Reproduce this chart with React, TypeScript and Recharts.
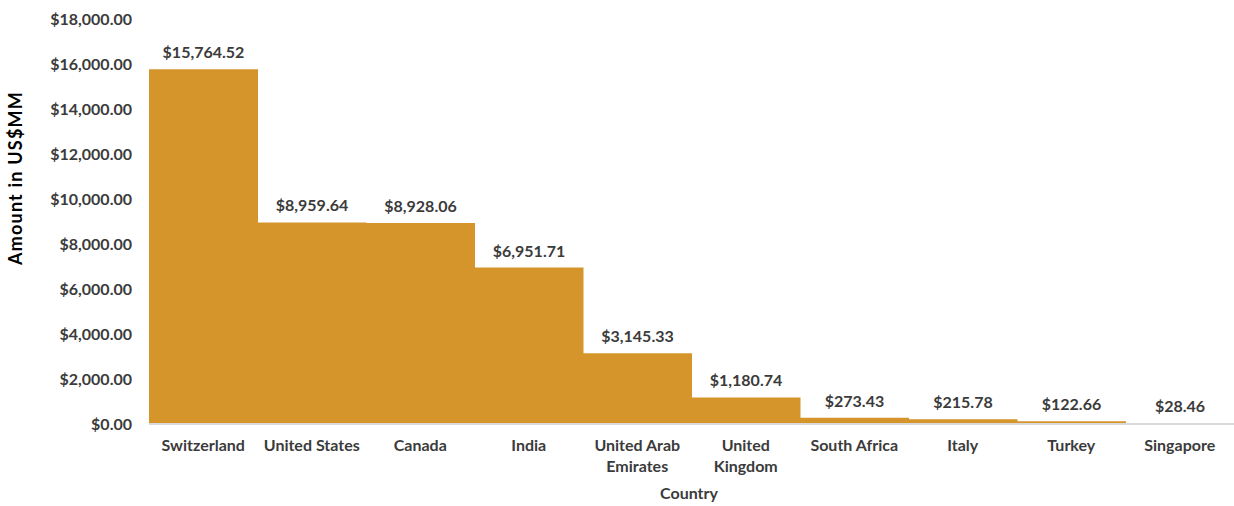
import { BarChart, Bar, XAxis, YAxis, LabelList } from "recharts";

const COUNTRIES = [
  "Switzerland",
  "United States",
  "Canada",
  "India",
  "United Arab Emirates",
  "United Kingdom",
  "South Africa",
  "Italy",
  "Turkey",
  "Singapore",
];

const AMOUNTS = [15764.52, 8959.64, 8928.06, 6951.71, 3145.33, 1180.74, 273.43, 215.78, 122.66, 28.46];

// how the category labels wrap under the axis
const TICK_LINES: Record<string, string[]> = {
  "United Arab Emirates": ["United Arab", "Emirates"],
  "United Kingdom": ["United", "Kingdom"],
};

const Y_TICKS = [0, 2000, 4000, 6000, 8000, 10000, 12000, 14000, 16000, 18000];

const BAR = "#D5952B";
const TEXT = "#3b3b3b";
const AXIS_LINE = "#d9d9d9";
const FONT = "Lato, 'Open Sans', sans-serif";

const data = COUNTRIES.map((c, i) => ({ country: c, amount: AMOUNTS[i] }));

function money(v: number): string {
  return "$" + v.toLocaleString("en-US", { minimumFractionDigits: 2, maximumFractionDigits: 2 });
}

function CountryTick({ x, y, payload }: any) {
  const lines = TICK_LINES[payload.value] ?? [payload.value];
  return (
    <g transform={`translate(${x},${y})`}>
      {lines.map((l, i) => (
        <text
          key={i}
          x={0}
          y={i * 21}
          dy={19}
          textAnchor="middle"
          fill={TEXT}
          fontSize={16}
          fontWeight={700}
          fontFamily={FONT}
        >
          {l}
        </text>
      ))}
    </g>
  );
}

export default function App() {
  return (
    <div style={{ position: "fixed", left: 0, top: 0, width: 1234, height: 506, background: "#fff" }}>
      <BarChart
        width={1234}
        height={506}
        data={data}
        margin={{ top: 19, right: 0, left: 0, bottom: 0 }}
        barCategoryGap={0}
      >
        <XAxis
          dataKey="country"
          tick={<CountryTick />}
          tickLine={false}
          axisLine={{ stroke: AXIS_LINE, strokeWidth: 2 }}
          interval={0}
          height={82}
        />
        <YAxis
          domain={[0, 18000]}
          ticks={Y_TICKS}
          tickFormatter={money}
          tickLine={false}
          axisLine={false}
          tickMargin={11}
          width={149}
          tick={{ fill: TEXT, fontSize: 16, fontWeight: 700, fontFamily: FONT }}
        />
        <Bar dataKey="amount" fill={BAR} isAnimationActive={false}>
          <LabelList
            dataKey="amount"
            position="top"
            offset={11}
            formatter={(v: any) => money(Number(v))}
            fill={TEXT}
            fontSize={16}
            fontWeight={700}
            fontFamily={FONT}
          />
        </Bar>
        <text
          x={17}
          y={178}
          transform="rotate(-90 17 178)"
          textAnchor="middle"
          dominantBaseline="middle"
          fill="#000"
          fontSize={18}
          fontWeight={700}
          letterSpacing={1.2}
          fontFamily={FONT}
        >
          Amount in US$MM
        </text>
        <text
          x={689}
          y={499}
          textAnchor="middle"
          fill={TEXT}
          fontSize={16}
          fontWeight={700}
          fontFamily={FONT}
        >
          Country
        </text>
      </BarChart>
    </div>
  );
}
